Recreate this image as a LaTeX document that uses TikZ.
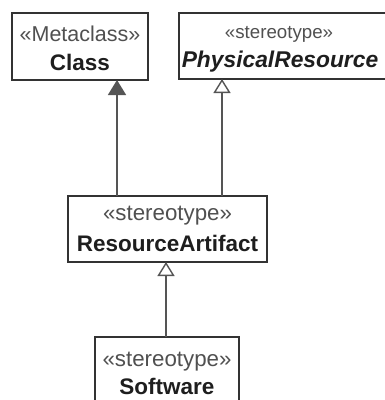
\documentclass[tikz,border=0pt]{standalone}
\usepackage{fontspec}
\setmainfont{Liberation Sans}
\usetikzlibrary{arrows.meta}
\definecolor{boxline}{HTML}{333333}
\definecolor{conn}{HTML}{555555}
\definecolor{stereo}{HTML}{505050}
\definecolor{namec}{HTML}{1E1E1E}
\tikzset{
  umlbox/.style={draw=boxline, line width=1.8pt, fill=white},
  stereotxt/.style={text=stereo, inner sep=0pt, font=\fontsize{21.5}{24}\selectfont},
  nametxt/.style={text=namec, inner sep=0pt, font=\fontsize{22.5}{25}\selectfont\bfseries},
  gen/.style={draw=conn, line width=1.5pt, -{Triangle[open, length=14pt, width=17pt, line width=1.4pt]}},
  inst/.style={draw=conn, line width=1.5pt, -{Triangle[length=15pt, width=18pt]}}
}
\begin{document}
\begin{tikzpicture}[x=1pt, y=-1pt]
\useasboundingbox (0,0) rectangle (385,400);
\clip (0,0) rectangle (385,400);
\fill[white] (0,0) rectangle (385,400);
% boxes
\draw[umlbox] (12,13) rectangle (148,80);
\coordinate (classB) at (117,80);
\node[stereotxt] (classS) at (80,34) {«Metaclass»};
\node[nametxt] (classN) at (80,62) {Class};

\draw[umlbox] (179,13) rectangle (395,79);
\coordinate (prB) at (222,79);
\node[stereotxt, font=\fontsize{18.7}{22}\selectfont] (prS) at (279,34) {«stereotype»};
\node[nametxt, font=\fontsize{22.8}{25}\selectfont\bfseries\itshape] (prN) at (280,62) {PhysicalResource};

\draw[umlbox] (68,196) rectangle (267,262);
\coordinate (raTL) at (117,196);
\coordinate (raTR) at (222,196);
\coordinate (raB) at (166,262);
\node[stereotxt, font=\fontsize{22.3}{25}\selectfont] (raS) at (167.5,216) {«stereotype»};
\node[nametxt] (raN) at (167.5,243) {ResourceArtifact};

\draw[umlbox] (95,337) rectangle (239,410);
\coordinate (swT) at (166,337);
\node[stereotxt, font=\fontsize{22.3}{25}\selectfont] (swS) at (167,362) {«stereotype»};
\node[nametxt] (swN) at (167,386) {Software};

% connectors
\draw[inst] (raTL) -- (classB);
\draw[gen] (raTR) -- (prB);
\draw[gen] (swT) -- (raB);
\end{tikzpicture}
\end{document}
